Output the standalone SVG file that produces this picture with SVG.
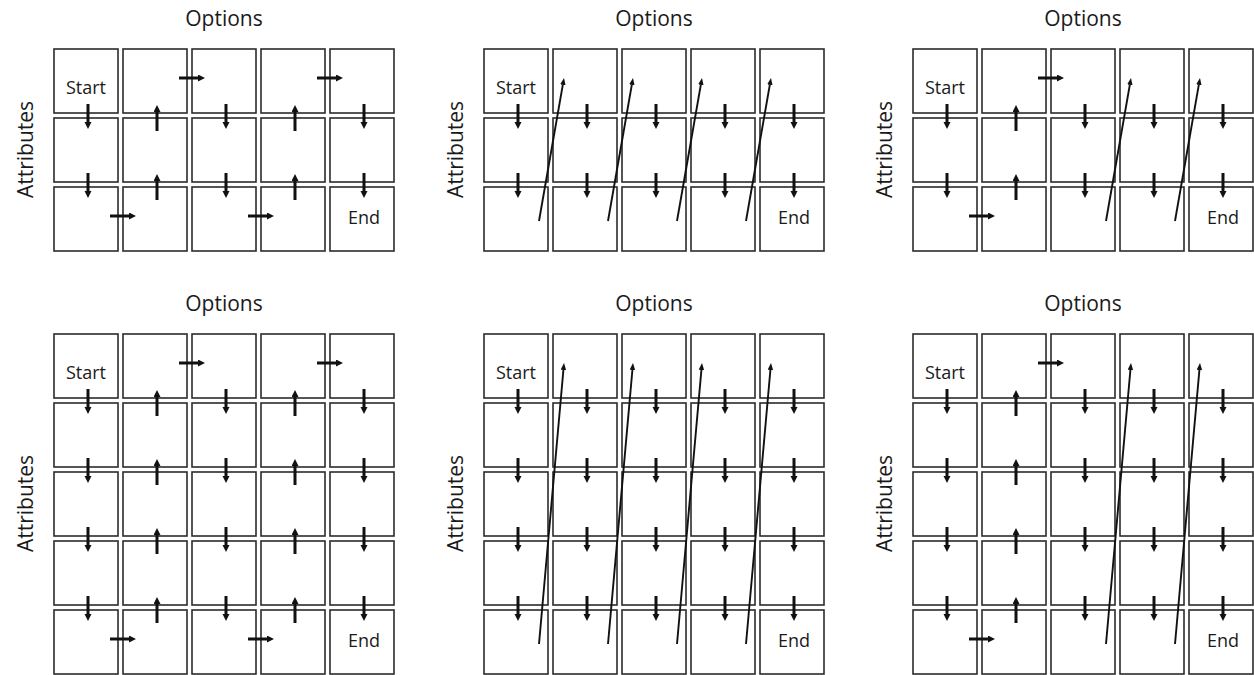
<svg xmlns="http://www.w3.org/2000/svg" width="1254" height="675" viewBox="0 0 1254 675">
  <style>
    .cell { fill: #ffffff; stroke: #2b2b2b; stroke-width: 1.6; }
    .title { font-family: "Open Sans", "Liberation Sans", sans-serif; font-size: 21px; fill: #1a1a1a; text-anchor: middle; }
    .lbl { font-family: "Open Sans", "Liberation Sans", sans-serif; font-size: 18px; fill: #1a1a1a; text-anchor: middle; }
    .step { stroke: #111111; stroke-width: 3; fill: none; marker-end: url(#headThick); }
    .jump { stroke: #111111; stroke-width: 1.9; fill: none; marker-end: url(#headThin); }
  </style>
  <defs>
    <marker id="headThick" markerUnits="userSpaceOnUse" markerWidth="8" markerHeight="8" refX="0" refY="3.5" orient="auto" viewBox="0 0 8 8">
      <path d="M0,0 L7,3.5 L0,7 z" fill="#111111"/>
    </marker>
    <marker id="headThin" markerUnits="userSpaceOnUse" markerWidth="8" markerHeight="8" refX="0" refY="2.75" orient="auto" viewBox="0 0 8 8">
      <path d="M0,0 L7,2.75 L0,5.5 z" fill="#111111"/>
    </marker>
    <!-- cell grids: 5 columns, pitch 69 -->
    <g id="row5">
      <rect class="cell" x="1" y="1" width="64" height="64"/>
      <rect class="cell" x="70" y="1" width="64" height="64"/>
      <rect class="cell" x="139" y="1" width="64" height="64"/>
      <rect class="cell" x="208" y="1" width="64" height="64"/>
      <rect class="cell" x="277" y="1" width="64" height="64"/>
    </g>
    <g id="grid3">
      <use href="#row5"/>
      <use href="#row5" y="69"/>
      <use href="#row5" y="138"/>
    </g>
    <g id="grid5">
      <use href="#row5"/>
      <use href="#row5" y="69"/>
      <use href="#row5" y="138"/>
      <use href="#row5" y="207"/>
      <use href="#row5" y="276"/>
    </g>
  </defs>

  <!-- axis titles -->
  <g id="titles">
    <text class="title" x="224" y="26">Options</text>
    <text class="title" x="654" y="26">Options</text>
    <text class="title" x="1083" y="26">Options</text>
    <text class="title" x="224" y="311">Options</text>
    <text class="title" x="654" y="311">Options</text>
    <text class="title" x="1083" y="311">Options</text>
    <text class="title" x="33" y="149.5" transform="rotate(-90 33 149.5)">Attributes</text>
    <text class="title" x="463" y="149.5" transform="rotate(-90 463 149.5)">Attributes</text>
    <text class="title" x="892" y="149.5" transform="rotate(-90 892 149.5)">Attributes</text>
    <text class="title" x="33" y="503.5" transform="rotate(-90 33 503.5)">Attributes</text>
    <text class="title" x="463" y="503.5" transform="rotate(-90 463 503.5)">Attributes</text>
    <text class="title" x="892" y="503.5" transform="rotate(-90 892 503.5)">Attributes</text>
  </g>

  <!-- panel grids -->
  <g id="panel-a" transform="translate(53 48)">
    <use href="#grid3"/>
    <text class="lbl" x="33" y="46">Start</text>
    <text class="lbl" x="311" y="176">End</text>
  </g>
  <g id="panel-b" transform="translate(483 48)">
    <use href="#grid3"/>
    <text class="lbl" x="33" y="46">Start</text>
    <text class="lbl" x="311" y="176">End</text>
  </g>
  <g id="panel-c" transform="translate(912 48)">
    <use href="#grid3"/>
    <text class="lbl" x="33" y="46">Start</text>
    <text class="lbl" x="311" y="176">End</text>
  </g>
  <g id="panel-d" transform="translate(53 333)">
    <use href="#grid5"/>
    <text class="lbl" x="33" y="46">Start</text>
    <text class="lbl" x="311" y="314">End</text>
  </g>
  <g id="panel-e" transform="translate(483 333)">
    <use href="#grid5"/>
    <text class="lbl" x="33" y="46">Start</text>
    <text class="lbl" x="311" y="314">End</text>
  </g>
  <g id="panel-f" transform="translate(912 333)">
    <use href="#grid5"/>
    <text class="lbl" x="33" y="46">Start</text>
    <text class="lbl" x="311" y="314">End</text>
  </g>

  <!-- connectors -->
  <g id="connectors">
    <!-- panel a: serpentine path -->
    <g transform="translate(53 48)">
      <line class="step" x1="35" y1="56" x2="35" y2="74"/>
      <line class="step" x1="35" y1="125" x2="35" y2="143"/>
      <line class="step" x1="57" y1="168" x2="76" y2="168"/>
      <line class="step" x1="104" y1="152" x2="104" y2="133"/>
      <line class="step" x1="104" y1="83" x2="104" y2="64"/>
      <line class="step" x1="126" y1="30" x2="145" y2="30"/>
      <line class="step" x1="173" y1="56" x2="173" y2="74"/>
      <line class="step" x1="173" y1="125" x2="173" y2="143"/>
      <line class="step" x1="195" y1="168" x2="214" y2="168"/>
      <line class="step" x1="242" y1="152" x2="242" y2="133"/>
      <line class="step" x1="242" y1="83" x2="242" y2="64"/>
      <line class="step" x1="264" y1="30" x2="283" y2="30"/>
      <line class="step" x1="311" y1="56" x2="311" y2="74"/>
      <line class="step" x1="311" y1="125" x2="311" y2="143"/>
    </g>
    <!-- panel b: column scan with returns -->
    <g transform="translate(483 48)">
      <line class="step" x1="35" y1="56" x2="35" y2="74"/>
      <line class="step" x1="35" y1="125" x2="35" y2="143"/>
      <line class="step" x1="104" y1="56" x2="104" y2="74"/>
      <line class="step" x1="104" y1="125" x2="104" y2="143"/>
      <line class="step" x1="173" y1="56" x2="173" y2="74"/>
      <line class="step" x1="173" y1="125" x2="173" y2="143"/>
      <line class="step" x1="242" y1="56" x2="242" y2="74"/>
      <line class="step" x1="242" y1="125" x2="242" y2="143"/>
      <line class="step" x1="311" y1="56" x2="311" y2="74"/>
      <line class="step" x1="311" y1="125" x2="311" y2="143"/>
      <line class="jump" x1="56" y1="173" x2="79.8" y2="36.9"/>
      <line class="jump" x1="125" y1="173" x2="148.8" y2="36.9"/>
      <line class="jump" x1="194" y1="173" x2="217.8" y2="36.9"/>
      <line class="jump" x1="263" y1="173" x2="286.8" y2="36.9"/>
    </g>
    <!-- panel c: mixed -->
    <g transform="translate(912 48)">
      <line class="step" x1="35" y1="56" x2="35" y2="74"/>
      <line class="step" x1="35" y1="125" x2="35" y2="143"/>
      <line class="step" x1="57" y1="168" x2="76" y2="168"/>
      <line class="step" x1="104" y1="152" x2="104" y2="133"/>
      <line class="step" x1="104" y1="83" x2="104" y2="64"/>
      <line class="step" x1="126" y1="30" x2="145" y2="30"/>
      <line class="step" x1="173" y1="56" x2="173" y2="74"/>
      <line class="step" x1="173" y1="125" x2="173" y2="143"/>
      <line class="step" x1="242" y1="56" x2="242" y2="74"/>
      <line class="step" x1="242" y1="125" x2="242" y2="143"/>
      <line class="step" x1="311" y1="56" x2="311" y2="74"/>
      <line class="step" x1="311" y1="125" x2="311" y2="143"/>
      <line class="jump" x1="194" y1="173" x2="217.8" y2="36.9"/>
      <line class="jump" x1="263" y1="173" x2="286.8" y2="36.9"/>
    </g>
    <!-- panel d: serpentine path, 5 rows -->
    <g transform="translate(53 333)">
      <line class="step" x1="35" y1="56" x2="35" y2="74"/>
      <line class="step" x1="35" y1="125" x2="35" y2="143"/>
      <line class="step" x1="35" y1="194" x2="35" y2="212"/>
      <line class="step" x1="35" y1="263" x2="35" y2="281"/>
      <line class="step" x1="57" y1="306" x2="76" y2="306"/>
      <line class="step" x1="104" y1="290" x2="104" y2="271"/>
      <line class="step" x1="104" y1="221" x2="104" y2="202"/>
      <line class="step" x1="104" y1="152" x2="104" y2="133"/>
      <line class="step" x1="104" y1="83" x2="104" y2="64"/>
      <line class="step" x1="126" y1="30" x2="145" y2="30"/>
      <line class="step" x1="173" y1="56" x2="173" y2="74"/>
      <line class="step" x1="173" y1="125" x2="173" y2="143"/>
      <line class="step" x1="173" y1="194" x2="173" y2="212"/>
      <line class="step" x1="173" y1="263" x2="173" y2="281"/>
      <line class="step" x1="195" y1="306" x2="214" y2="306"/>
      <line class="step" x1="242" y1="290" x2="242" y2="271"/>
      <line class="step" x1="242" y1="221" x2="242" y2="202"/>
      <line class="step" x1="242" y1="152" x2="242" y2="133"/>
      <line class="step" x1="242" y1="83" x2="242" y2="64"/>
      <line class="step" x1="264" y1="30" x2="283" y2="30"/>
      <line class="step" x1="311" y1="56" x2="311" y2="74"/>
      <line class="step" x1="311" y1="125" x2="311" y2="143"/>
      <line class="step" x1="311" y1="194" x2="311" y2="212"/>
      <line class="step" x1="311" y1="263" x2="311" y2="281"/>
    </g>
    <!-- panel e: column scan with returns, 5 rows -->
    <g transform="translate(483 333)">
      <line class="step" x1="35" y1="56" x2="35" y2="74"/>
      <line class="step" x1="35" y1="125" x2="35" y2="143"/>
      <line class="step" x1="35" y1="194" x2="35" y2="212"/>
      <line class="step" x1="35" y1="263" x2="35" y2="281"/>
      <line class="step" x1="104" y1="56" x2="104" y2="74"/>
      <line class="step" x1="104" y1="125" x2="104" y2="143"/>
      <line class="step" x1="104" y1="194" x2="104" y2="212"/>
      <line class="step" x1="104" y1="263" x2="104" y2="281"/>
      <line class="step" x1="173" y1="56" x2="173" y2="74"/>
      <line class="step" x1="173" y1="125" x2="173" y2="143"/>
      <line class="step" x1="173" y1="194" x2="173" y2="212"/>
      <line class="step" x1="173" y1="263" x2="173" y2="281"/>
      <line class="step" x1="242" y1="56" x2="242" y2="74"/>
      <line class="step" x1="242" y1="125" x2="242" y2="143"/>
      <line class="step" x1="242" y1="194" x2="242" y2="212"/>
      <line class="step" x1="242" y1="263" x2="242" y2="281"/>
      <line class="step" x1="311" y1="56" x2="311" y2="74"/>
      <line class="step" x1="311" y1="125" x2="311" y2="143"/>
      <line class="step" x1="311" y1="194" x2="311" y2="212"/>
      <line class="step" x1="311" y1="263" x2="311" y2="281"/>
      <line class="jump" x1="56" y1="311" x2="80.4" y2="37"/>
      <line class="jump" x1="125" y1="311" x2="149.4" y2="37"/>
      <line class="jump" x1="194" y1="311" x2="218.4" y2="37"/>
      <line class="jump" x1="263" y1="311" x2="287.4" y2="37"/>
    </g>
    <!-- panel f: mixed, 5 rows -->
    <g transform="translate(912 333)">
      <line class="step" x1="35" y1="56" x2="35" y2="74"/>
      <line class="step" x1="35" y1="125" x2="35" y2="143"/>
      <line class="step" x1="35" y1="194" x2="35" y2="212"/>
      <line class="step" x1="35" y1="263" x2="35" y2="281"/>
      <line class="step" x1="57" y1="306" x2="76" y2="306"/>
      <line class="step" x1="104" y1="290" x2="104" y2="271"/>
      <line class="step" x1="104" y1="221" x2="104" y2="202"/>
      <line class="step" x1="104" y1="152" x2="104" y2="133"/>
      <line class="step" x1="104" y1="83" x2="104" y2="64"/>
      <line class="step" x1="126" y1="30" x2="145" y2="30"/>
      <line class="step" x1="173" y1="56" x2="173" y2="74"/>
      <line class="step" x1="173" y1="125" x2="173" y2="143"/>
      <line class="step" x1="173" y1="194" x2="173" y2="212"/>
      <line class="step" x1="173" y1="263" x2="173" y2="281"/>
      <line class="step" x1="242" y1="56" x2="242" y2="74"/>
      <line class="step" x1="242" y1="125" x2="242" y2="143"/>
      <line class="step" x1="242" y1="194" x2="242" y2="212"/>
      <line class="step" x1="242" y1="263" x2="242" y2="281"/>
      <line class="step" x1="311" y1="56" x2="311" y2="74"/>
      <line class="step" x1="311" y1="125" x2="311" y2="143"/>
      <line class="step" x1="311" y1="194" x2="311" y2="212"/>
      <line class="step" x1="311" y1="263" x2="311" y2="281"/>
      <line class="jump" x1="194" y1="311" x2="218.4" y2="37"/>
      <line class="jump" x1="263" y1="311" x2="287.4" y2="37"/>
    </g>
  </g>
</svg>
